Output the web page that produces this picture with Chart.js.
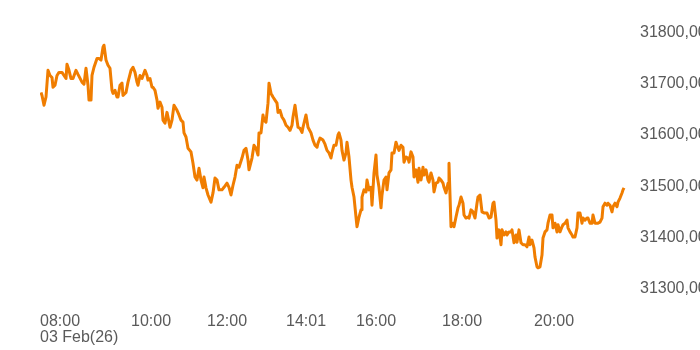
<!DOCTYPE html>
<html>
<head>
<meta charset="utf-8">
<script src="https://cdn.jsdelivr.net/npm/chart.js@4/dist/chart.umd.min.js"></script>
<style>
  html, body { margin: 0; padding: 0; background: #fff; }
  #wrap { width: 700px; height: 350px; position: relative; }
</style>
</head>
<body>
<div id="wrap"><canvas id="intraday"></canvas></div>
<script>
// trade sequence (position along the session) and last price
const seq = [1, 2, 4, 6, 8, 10, 12, 13, 15, 17, 19, 22, 24, 26, 27, 29, 31, 33, 36, 38,
  42, 44, 46, 48, 49, 51, 52, 54, 57, 59, 61, 63, 64, 66, 68, 70, 72, 73, 75, 77,
  78, 80, 82, 83, 86, 88, 91, 93, 95, 97, 98, 100, 102, 105, 107, 108, 110, 112, 113, 115,
  117, 118, 120, 122, 123, 125, 127, 128, 130, 132, 134, 137, 139, 141, 143, 144, 146, 148, 151, 153,
  155, 157, 159, 161, 163, 164, 166, 168, 171, 173, 175, 177, 179, 182, 184, 187, 189, 191, 193, 195,
  197, 199, 202, 204, 206, 208, 209, 212, 214, 216, 218, 219, 221, 223, 224, 226, 228, 229, 231, 233,
  235, 237, 238, 240, 242, 244, 246, 248, 250, 252, 253, 255, 257, 258, 260, 262, 263, 266, 268, 271,
  273, 275, 277, 278, 280, 283, 285, 287, 289, 291, 292, 294, 296, 298, 299, 301, 302, 304, 306, 307,
  309, 311, 312, 314, 316, 317, 319, 321, 322, 324, 326, 327, 329, 331, 332, 334, 336, 337, 339, 341,
  342, 344, 346, 347, 349, 351, 352, 354, 356, 357, 359, 361, 363, 364, 366, 368, 369, 371, 373, 374,
  376, 378, 379, 381, 383, 384, 386, 388, 389, 391, 393, 394, 396, 398, 399, 401, 403, 404, 406, 408,
  409, 411, 413, 414, 416, 418, 419, 421, 423, 424, 426, 428, 429, 431, 433, 435, 437, 438, 440, 442,
  444, 447, 449, 451, 453, 454, 456, 457, 459, 461, 462, 464, 466, 467, 469, 471, 472, 474, 476, 477,
  479, 481, 483, 485, 487, 489, 490, 492, 494, 495, 497, 498, 500, 502, 503, 505, 507, 508, 510, 512,
  513, 515, 517, 518, 520, 522, 523, 525, 527, 528, 530, 532, 533, 535, 537, 538, 540, 542, 543, 545,
  547, 548, 550, 552, 553, 555, 557, 558, 560, 562, 563, 565, 567, 568, 570, 572, 573, 575, 577, 578,
  580, 582, 583, 584];
const prices = [31683, 31677, 31658, 31674, 31726, 31716, 31712, 31693, 31697, 31716, 31722, 31722, 31716, 31710, 31738, 31726, 31710, 31710, 31726, 31718,
  31703, 31699, 31730, 31697, 31668, 31668, 31716, 31732, 31749, 31749, 31746, 31771, 31775, 31746, 31736, 31730, 31687, 31681, 31687, 31674,
  31674, 31697, 31701, 31677, 31683, 31703, 31726, 31732, 31722, 31703, 31697, 31716, 31710, 31726, 31716, 31707, 31710, 31693, 31693, 31687,
  31668, 31652, 31664, 31654, 31629, 31623, 31644, 31635, 31615, 31629, 31658, 31648, 31639, 31629, 31625, 31604, 31596, 31574, 31567, 31545,
  31518, 31512, 31535, 31512, 31497, 31518, 31497, 31483, 31469, 31487, 31516, 31512, 31493, 31493, 31498, 31506, 31498, 31483, 31502, 31518,
  31541, 31537, 31555, 31570, 31574, 31551, 31532, 31555, 31580, 31574, 31561, 31604, 31604, 31639, 31629, 31625, 31662, 31701, 31681, 31674,
  31668, 31662, 31644, 31648, 31635, 31629, 31619, 31615, 31609, 31619, 31635, 31658, 31629, 31615, 31613, 31605, 31615, 31639, 31615, 31604,
  31590, 31580, 31576, 31584, 31594, 31590, 31582, 31570, 31565, 31555, 31565, 31580, 31580, 31600, 31604, 31590, 31570, 31551, 31565, 31586,
  31557, 31512, 31498, 31479, 31440, 31421, 31440, 31454, 31479, 31493, 31489, 31512, 31493, 31498, 31463, 31526, 31561, 31522, 31498, 31458,
  31483, 31512, 31518, 31493, 31526, 31532, 31565, 31565, 31586, 31580, 31570, 31580, 31576, 31547, 31557, 31555, 31547, 31567, 31557, 31518,
  31532, 31508, 31535, 31512, 31537, 31522, 31532, 31512, 31508, 31526, 31512, 31489, 31506, 31508, 31516, 31512, 31506, 31498, 31487, 31506,
  31545, 31421, 31428, 31421, 31440, 31458, 31463, 31479, 31467, 31444, 31438, 31440, 31438, 31454, 31450, 31438, 31467, 31479, 31483, 31450,
  31448, 31448, 31438, 31440, 31467, 31469, 31434, 31399, 31415, 31386, 31415, 31405, 31411, 31405, 31411, 31411, 31415, 31390, 31405, 31391,
  31415, 31390, 31386, 31386, 31382, 31401, 31386, 31395, 31380, 31362, 31343, 31341, 31343, 31366, 31399, 31411, 31415, 31428, 31444, 31444,
  31419, 31428, 31411, 31425, 31411, 31421, 31425, 31428, 31434, 31419, 31411, 31405, 31401, 31401, 31419, 31448, 31448, 31428, 31438, 31434,
  31438, 31438, 31428, 31428, 31444, 31428, 31428, 31428, 31430, 31438, 31460, 31467, 31463, 31467, 31463, 31450, 31460, 31467, 31460, 31469,
  31477, 31487, 31493, 31497];

// time labels sit at these positions in the trade sequence
const tickSeq = [0, 91, 167, 246, 316, 402, 494];
const tickLabels = [['08:00', '03 Feb(26)'], '10:00', '12:00', '14:01', '16:00', '18:00', '20:00'];
const priceTicks = [31300, 31400, 31500, 31600, 31700, 31800];

const points = seq.map((s, i) => ({ x: s, y: prices[i] }));

const tickFont = { family: '"Liberation Sans", Arial, sans-serif', size: 16, lineHeight: 1 };
const tickColor = '#5a5a5a';

new Chart(document.getElementById('intraday'), {
  type: 'line',
  data: {
    datasets: [{
      data: points,
      borderColor: '#f07d00',
      borderWidth: 3,
      pointRadius: 0,
      tension: 0,
      borderJoinStyle: 'round',
      fill: false
    }]
  },
  options: {
    responsive: true,
    maintainAspectRatio: false,
    animation: false,
    layout: { padding: { left: 40, top: 6, right: 0, bottom: 0 } },
    plugins: { legend: { display: false }, tooltip: { enabled: false } },
    scales: {
      x: {
        type: 'linear',
        min: 0,
        max: 590,
        grid: { display: false, drawTicks: false },
        border: { display: false },
        afterBuildTicks: function(scale) {
          scale.ticks = tickSeq.map(v => ({ value: v }));
        },
        afterFit: function(scale) {
          scale.height = 36;
        },
        ticks: {
          align: 'start',
          maxRotation: 0,
          autoSkip: false,
          padding: 0,
          color: tickColor,
          font: tickFont,
          callback: function(value, index) {
            return tickLabels[index];
          }
        }
      },
      y: {
        position: 'right',
        min: 31251,
        max: 31828,
        grid: { display: false, drawTicks: false },
        border: { display: false },
        afterBuildTicks: function(scale) {
          scale.ticks = priceTicks.map(v => ({ value: v }));
        },
        afterFit: function(scale) {
          scale.width = 70;
        },
        ticks: {
          padding: 10,
          color: tickColor,
          font: tickFont,
          callback: function(value) {
            return value.toFixed(2).replace('.', ',');
          }
        }
      }
    }
  }
});
</script>
</body>
</html>
